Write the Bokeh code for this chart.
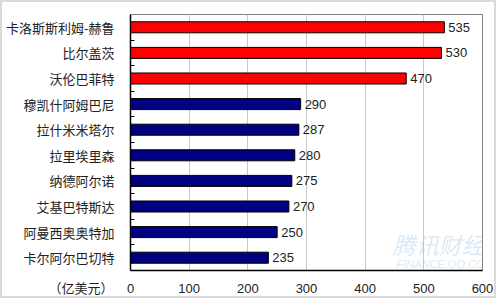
from bokeh.plotting import figure
from bokeh.models import FixedTicker, Label, ColumnDataSource, Range1d, Title
from bokeh.core.properties import value
from bokeh.embed import file_html
from bokeh.resources import INLINE

names = ["卡洛斯斯利姆-赫鲁", "比尔盖茨", "沃伦巴菲特", "穆凯什阿姆巴尼", "拉什米米塔尔",
         "拉里埃里森", "纳德阿尔诺", "艾基巴特斯达", "阿曼西奥奥特加", "卡尔阿尔巴切特"]
wealth = [535, 530, 470, 290, 287, 280, 275, 270, 250, 235]
colors = ["#ff0000"] * 3 + ["#000080"] * 7
x_ticks = [0, 100, 200, 300, 400, 500, 600]
unit_label = "（亿美元）"

n = len(names)
ypos = [n - i - 0.5 for i in range(n)]
src = ColumnDataSource(dict(y=ypos, v=wealth, c=colors, t=[str(w) for w in wealth]))

CJK = "Noto Sans CJK SC"
NUM = "Liberation Sans"

p = figure(width=496, height=298, output_backend="svg", toolbar_location=None,
           x_range=Range1d(0, 600), y_range=Range1d(0, n),
           min_border_left=124, min_border_right=16, min_border_top=12, min_border_bottom=30,
           styles={"border": "2px solid #dadada"})
p.background_fill_color = "white"
p.border_fill_color = "white"
p.outline_line_color = "#808080"
p.outline_line_width = 1

# watermark (kept inside the plot frame)
p.add_layout(Label(x=262, y=10, x_units="screen", y_units="screen", text="腾讯财经",
                   text_font=CJK, text_font_size="23px", text_font_style="italic",
                   text_color="#9fc7e6", text_alpha=0.4))
p.add_layout(Label(x=266, y=1, x_units="screen", y_units="screen", text="FINANCE.QQ.COM",
                   text_font=NUM, text_font_size="11px", text_font_style="italic",
                   text_color="#9fc7e6", text_alpha=0.4))

p.hbar(y="y", right="v", left=0, height=0.43, fill_color="c", line_color="black",
       line_width=1, source=src)
p.text(x="v", y="y", text="t", x_offset=4, text_baseline="middle", text_align="left",
       text_font=value(NUM), text_font_size="13px", text_color="#222222", source=src)

# x axis
p.xaxis.ticker = FixedTicker(ticks=x_ticks)
p.xaxis.major_tick_line_color = None
p.xaxis.minor_tick_line_color = None
p.xaxis.axis_line_color = "black"
p.xaxis.axis_line_width = 1.5
p.xaxis.major_label_text_font = NUM
p.xaxis.major_label_text_font_size = "13px"
p.xaxis.major_label_text_color = "#222222"
p.xaxis.major_label_standoff = 7

# y axis
p.yaxis.ticker = FixedTicker(ticks=ypos, minor_ticks=list(range(1, n)))
p.yaxis.major_label_overrides = {y: nm for y, nm in zip(ypos, names)}
p.yaxis.major_tick_line_color = None
p.yaxis.minor_tick_in = 4
p.yaxis.minor_tick_out = 0
p.yaxis.minor_tick_line_color = "black"
p.yaxis.axis_line_color = "black"
p.yaxis.axis_line_width = 1.5
p.yaxis.major_label_text_font = CJK
p.yaxis.major_label_text_font_size = "13px"
p.yaxis.major_label_text_color = "#222222"
p.yaxis.major_label_standoff = 10

p.xgrid.grid_line_color = "#c8c8c8"
p.xgrid.grid_line_width = 1
p.ygrid.grid_line_color = None

p.add_layout(Title(text=unit_label, align="left", vertical_align="top", offset=-82,
                   standoff=-36, text_font=CJK, text_font_size="13px",
                   text_font_style="normal", text_color="#222222"), "below")

open("out.html", "w").write(file_html(p, INLINE))
